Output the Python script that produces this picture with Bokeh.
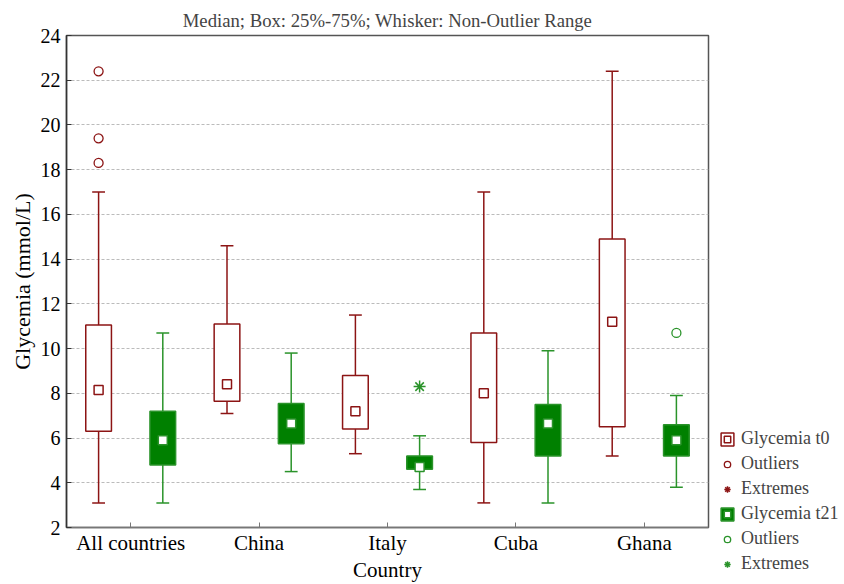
from bokeh.plotting import figure
from bokeh.models import (FactorRange, Range1d, FixedTicker, Legend, LegendItem, ColumnDataSource)
from bokeh.transform import dodge
from bokeh.embed import file_html
from bokeh.resources import INLINE

countries = ["All countries", "China", "Italy", "Cuba", "Ghana"]

# Glycemia t0
t0_low = [3.1, 7.1, 5.3, 3.1, 5.2]
t0_q1 = [6.3, 7.65, 6.4, 5.8, 6.5]
t0_med = [8.15, 8.4, 7.2, 8.0, 11.2]
t0_q3 = [11.05, 11.1, 8.8, 10.7, 14.9]
t0_high = [17.0, 14.6, 11.5, 17.0, 22.4]
t0_out_country = ["All countries", "All countries", "All countries"]
t0_out_value = [22.4, 19.4, 18.3]
t0_ext_country = ["All countries"]      # no extreme values for t0
t0_ext_value = [float("nan")]

# Glycemia t21
t21_low = [3.1, 4.5, 3.7, 3.1, 3.8]
t21_q1 = [4.8, 5.75, 4.6, 5.2, 5.2]
t21_med = [5.9, 6.65, 4.7, 6.65, 5.9]
t21_q3 = [7.2, 7.55, 5.2, 7.5, 6.6]
t21_high = [10.7, 9.8, 6.1, 9.9, 7.9]
t21_out_country = ["Ghana"]
t21_out_value = [10.7]
t21_ext_country = ["Italy"]
t21_ext_value = [8.3]

y_ticks = [2, 4, 6, 8, 10, 12, 14, 16, 18, 20, 22, 24]

FONT = "Liberation Serif"
RED = "#8c1414"
GREEN = "#008000"
GREEN_LINE = "#2a932a"

p = figure(x_range=FactorRange(factors=countries), y_range=Range1d(2, 24),
           frame_width=642, frame_height=492, output_backend="svg", toolbar_location=None,
           min_border_left=66, min_border_right=10, min_border_top=35, min_border_bottom=10,
           title="Median; Box: 25%-75%; Whisker: Non-Outlier Range")
p.title.align = "center"
p.title.text_font = FONT
p.title.text_font_size = "18.7px"
p.title.text_font_style = "normal"
p.title.standoff = 10

def style_axis(ax, color, tick_size, label_size):
    ax.major_tick_in = 5
    ax.major_tick_out = 0
    ax.minor_tick_line_color = None
    ax.axis_line_color = color
    ax.major_tick_line_color = color
    ax.axis_line_width = 1.5
    ax.major_label_text_font = FONT
    ax.major_label_text_color = "black"
    ax.major_label_text_font_size = tick_size
    ax.axis_label_text_font = FONT
    ax.axis_label_text_font_size = label_size
    ax.axis_label_text_font_style = "normal"
    ax.axis_label_text_color = "black"

p.yaxis.ticker = FixedTicker(ticks=y_ticks)
style_axis(p.yaxis[0], "#333333", "20px", "22px")
p.yaxis.axis_label = "Glycemia (mmol/L)"
p.yaxis.major_label_standoff = 6
p.yaxis.axis_label_standoff = 3
style_axis(p.xaxis[0], "#777777", "21px", "21px")
p.xaxis.axis_label = "Country"
p.xaxis.major_label_standoff = 3
p.xaxis.axis_label_standoff = 0

p.xgrid.visible = False
p.ygrid.grid_line_color = "#bbbbbb"
p.ygrid.grid_line_dash = "3 2"
p.outline_line_color = "#555555"
p.outline_line_width = 1.5

def draw_series(off, low, q1, med, q3, high, oc, ov, ec, ev, line_color, box_fill, box_line, med_line):
    src = ColumnDataSource(dict(c=countries, low=low, q1=q1, med=med, q3=q3, high=high))
    xc = dodge("c", off, range=p.x_range)
    xl = dodge("c", off - 0.05, range=p.x_range)
    xr = dodge("c", off + 0.05, range=p.x_range)
    p.segment(x0=xc, y0="low", x1=xc, y1="q1", source=src, line_color=line_color, line_width=1.5)
    p.segment(x0=xc, y0="q3", x1=xc, y1="high", source=src, line_color=line_color, line_width=1.5)
    p.segment(x0=xl, y0="low", x1=xr, y1="low", source=src, line_color=line_color, line_width=1.5)
    p.segment(x0=xl, y0="high", x1=xr, y1="high", source=src, line_color=line_color, line_width=1.5)
    box = p.vbar(x=xc, width=0.2, bottom="q1", top="q3", source=src,
                 fill_color=box_fill, line_color=box_line, line_width=1.5)
    m = p.scatter(x=xc, y="med", source=src, marker="square", size=9,
                  fill_color="white", line_color=med_line, line_width=1.5)
    osrc = ColumnDataSource(dict(c=oc, v=ov))
    o = p.scatter(x=dodge("c", off, range=p.x_range), y="v", source=osrc, marker="circle", size=9,
                  fill_color=None, line_color=line_color, line_width=1.3)
    esrc = ColumnDataSource(dict(c=ec, v=ev))
    e = p.scatter(x=dodge("c", off, range=p.x_range), y="v", source=esrc, marker="asterisk", size=12,
                  line_color=line_color, line_width=1.5)
    return box, m, o, e

b0, m0, o0, e0 = draw_series(-0.25, t0_low, t0_q1, t0_med, t0_q3, t0_high,
                             t0_out_country, t0_out_value, t0_ext_country, t0_ext_value,
                             RED, "white", RED, RED)
b1, m1, o1, e1 = draw_series(0.25, t21_low, t21_q1, t21_med, t21_q3, t21_high,
                             t21_out_country, t21_out_value, t21_ext_country, t21_ext_value,
                             GREEN_LINE, GREEN, GREEN_LINE, GREEN_LINE)

legend = Legend(items=[
    LegendItem(label="Glycemia t0", renderers=[b0, m0]),
    LegendItem(label="Outliers", renderers=[o0]),
    LegendItem(label="Extremes", renderers=[e0]),
    LegendItem(label="Glycemia t21", renderers=[b1, m1]),
    LegendItem(label="Outliers", renderers=[o1]),
    LegendItem(label="Extremes", renderers=[e1]),
], location=(11, -47))
legend.padding = 0
legend.margin = 0
legend.spacing = 4
legend.glyph_width = 16
legend.glyph_height = 16
legend.label_standoff = 6
legend.label_text_font = FONT
legend.label_text_font_size = "18px"
legend.border_line_color = None
legend.background_fill_alpha = 0
p.add_layout(legend, "right")

open("out.html", "w").write(file_html(p, INLINE))
